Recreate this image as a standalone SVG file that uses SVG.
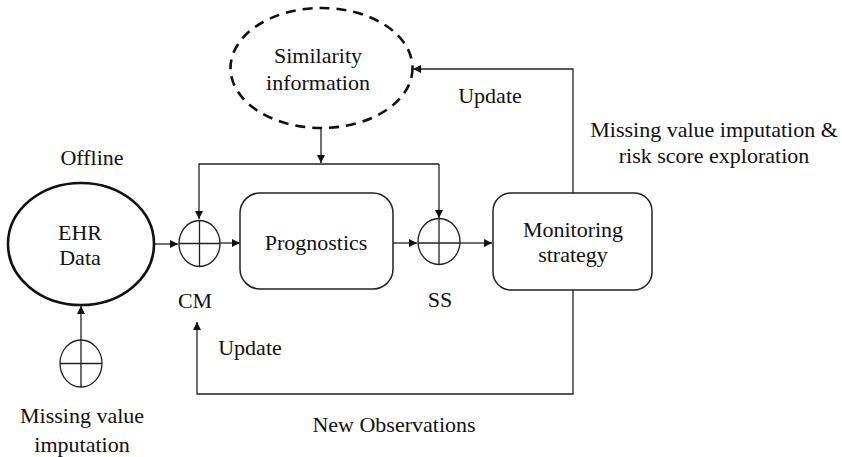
<svg xmlns="http://www.w3.org/2000/svg" width="842" height="457" viewBox="0 0 842 457" font-family="'Liberation Serif', 'Times New Roman', Times, serif">
<defs>
<marker id="ah" viewBox="0 0 10 10" refX="10" refY="5" markerWidth="8" markerHeight="8" markerUnits="userSpaceOnUse" orient="auto">
<path d="M0,0 L10,5 L0,10 z" fill="#111"/>
</marker>
</defs>
<style>
text{font-family:'Liberation Serif','Times New Roman',Times,serif;font-size:22px;fill:#111;text-anchor:middle}
.ln{fill:none;stroke:#222;stroke-width:1.3}
.sum{fill:#fff;stroke:#222;stroke-width:1.3}
.box{fill:#fff;stroke:#222;stroke-width:1.5}
</style>
<rect width="842" height="457" fill="#fff"/>
<g id="connectors">
<path class="ln" d="M154,244 L178,244" marker-end="url(#ah)"/>
<path class="ln" d="M220,243 L240,243" marker-end="url(#ah)"/>
<path class="ln" d="M393,243 L417,243" marker-end="url(#ah)"/>
<path class="ln" d="M460,243 L492,243" marker-end="url(#ah)"/>
<path class="ln" d="M321,128 L321,163" marker-end="url(#ah)"/>
<path class="ln" d="M439,164 L199,164 L199,219" marker-end="url(#ah)"/>
<path class="ln" d="M439,164 L439,218" marker-end="url(#ah)"/>
<path class="ln" d="M573,193 L573,69 L413,69" marker-end="url(#ah)"/>
<path class="ln" d="M573,290 L573,394 L197,394 L197,322" marker-end="url(#ah)"/>
<path class="ln" d="M81,340 L81,306" marker-end="url(#ah)"/>
</g>
<g id="similarity">
<ellipse cx="321.5" cy="68" rx="91" ry="60" fill="#fff" stroke="#111" stroke-width="2.6" stroke-dasharray="10,7"/>
<text x="318" y="63">Similarity</text>
<text x="318" y="90">information</text>
</g>
<g id="ehr">
<ellipse cx="81" cy="244" rx="73" ry="61" fill="#fff" stroke="#111" stroke-width="2.6"/>
<text x="80" y="240">EHR</text>
<text x="80" y="265">Data</text>
</g>
<g id="cm">
<ellipse class="sum" cx="199.5" cy="243.5" rx="20.5" ry="23"/>
<path class="ln" d="M179,243.5 H220 M199.5,220.5 V266.5"/>
</g>
<g id="ss">
<ellipse class="sum" cx="439" cy="241.5" rx="21" ry="23"/>
<path class="ln" d="M418,243 H460 M439,218.5 V264.5"/>
</g>
<g id="mvi">
<ellipse class="sum" cx="81" cy="363.5" rx="21" ry="23.5"/>
<path class="ln" d="M60,363.5 H102 M81,340 V387"/>
</g>
<g id="prognostics">
<rect class="box" x="240" y="193" width="153" height="96" rx="20"/>
<text x="316" y="250">Prognostics</text>
</g>
<g id="monitoring">
<rect class="box" x="493" y="193" width="159" height="97" rx="18"/>
<text x="573" y="237">Monitoring</text>
<text x="573" y="262">strategy</text>
</g>
<g id="labels">
<text x="92" y="165">Offline</text>
<text x="195" y="308">CM</text>
<text x="440" y="307">SS</text>
<text x="250" y="355">Update</text>
<text x="490" y="103">Update</text>
<text x="714" y="137">Missing value imputation &amp;</text>
<text x="714" y="163">risk score exploration</text>
<text x="82" y="423">Missing value</text>
<text x="82" y="452">imputation</text>
<text x="394" y="432">New Observations</text>
</g>
</svg>
